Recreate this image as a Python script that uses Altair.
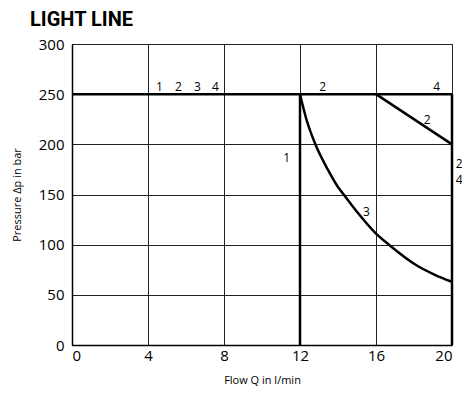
import altair as alt
import pandas as pd

# Curves (Flow Q in l/min, Pressure in bar)
line_250_q = [0, 20]
line_250_p = [250, 250]
line_1_q = [12, 12]
line_1_p = [0, 250]
line_20_q = [20, 20]
line_20_p = [0, 250]
diag_q = [16, 20]
diag_p = [250, 200]
curve3_q = [12.0, 12.32, 12.81, 13.46, 13.98, 14.3, 15.03, 16.0, 16.68, 18.17, 19.1, 20.0]
curve3_p = [250, 226, 200, 175, 158, 150, 132, 111, 100, 79, 70, 63]

label_text = ["1", "2", "3", "4", "2", "4", "2", "1", "3"]
label_q = [4.6, 5.6, 6.6, 7.55, 13.2, 19.2, 18.7, 11.3, 15.5]
label_p = [257, 257, 257, 257, 257, 257, 224, 186, 133]

side_text = ["2", "4"]
side_q = [20.2, 20.2]
side_p = [180, 164]

rows = []
for name, qs, ps in [("250", line_250_q, line_250_p), ("1", line_1_q, line_1_p),
                     ("20", line_20_q, line_20_p), ("diag", diag_q, diag_p),
                     ("3", curve3_q, curve3_p)]:
    for i, (q, p) in enumerate(zip(qs, ps)):
        rows.append({"series": name, "q": q, "p": p, "i": i})
df = pd.DataFrame(rows)
lab = pd.DataFrame({"t": label_text, "q": label_q, "p": label_p})
side = pd.DataFrame({"t": side_text, "q": side_q, "p": side_p})

font = "Open Sans"
x = alt.X("q:Q", scale=alt.Scale(domain=[0, 20], nice=False),
          axis=alt.Axis(values=[0, 4, 8, 12, 16, 20], title="Flow Q in l/min",
                        grid=True, gridColor="#222", gridWidth=1, ticks=False,
                        domainColor="#000", domainWidth=1.5, labelFont=font,
                        labelFontSize=15, labelColor="#000", labelPadding=3,
                        titleFont=font, titleFontSize=11, titleFontWeight="normal",
                        titleColor="#000", titlePadding=11))
y = alt.Y("p:Q", scale=alt.Scale(domain=[0, 300], nice=False),
          axis=alt.Axis(values=[0, 50, 100, 150, 200, 250, 300], title="Pressure \u0394p in bar",
                        grid=True, gridColor="#222", gridWidth=1, ticks=False,
                        domainColor="#000", domainWidth=1.5, labelFont=font,
                        labelFontSize=15, labelColor="#000", labelPadding=8,
                        titleFont=font, titleFontSize=11, titleFontWeight="normal",
                        titleColor="#000", titlePadding=16))

lines = alt.Chart(df).mark_line(color="#000", strokeWidth=2.5, interpolate="monotone").encode(
    x=x, y=y, detail="series:N", order="i:Q")
texts = alt.Chart(lab).mark_text(font=font, fontSize=12, color="#000",
                                 baseline="middle", align="center").encode(
    x="q:Q", y="p:Q", text="t:N")
side_texts = alt.Chart(side).mark_text(font=font, fontSize=12, color="#000",
                                       baseline="middle", align="left").encode(
    x="q:Q", y="p:Q", text="t:N")

chart = (lines + texts + side_texts).properties(
    width=380, height=301,
    autosize=alt.AutoSizeParams(type="none"),
    padding={"left": 64, "top": 36, "right": 10, "bottom": 41},
    title=alt.TitleParams("LIGHT LINE", anchor="start", frame="group",
                          font="Roboto", fontSize=20,
                          fontWeight="bold", color="#000", dx=-42, offset=7),
).configure_view(stroke="#222", strokeWidth=1)

chart.save("out.html", embed_options={"renderer": "svg", "actions": False})
